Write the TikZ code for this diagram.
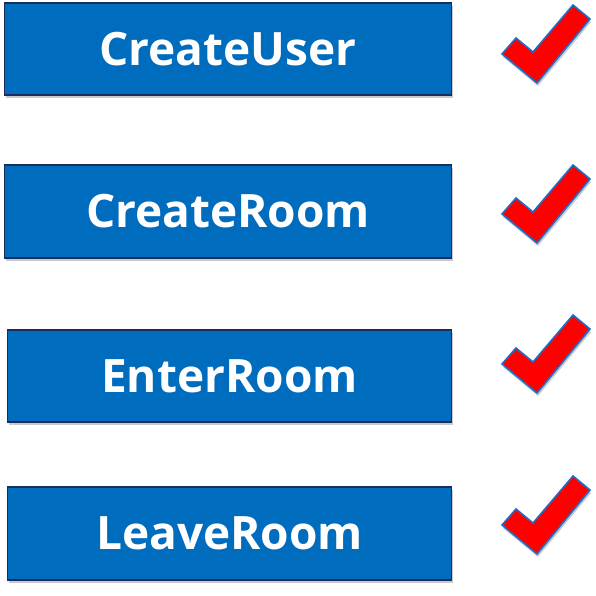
\documentclass[tikz,border=0pt]{standalone}
\usepackage{fontspec}
\newfontfamily\labelfont{Open Sans}
\usetikzlibrary{shadows}

\definecolor{boxblue}{RGB}{0,108,190}
\definecolor{boxline}{RGB}{25,45,95}
\definecolor{tickblue}{RGB}{30,110,200}

\tikzset{
  call/.style={rectangle,draw=boxline,line width=1.6pt,fill=boxblue,text=white,inner sep=0pt,
    font=\labelfont\bfseries\fontsize{46}{46}\selectfont,
    drop shadow={shadow xshift=1pt,shadow yshift=-3pt,opacity=0.35,fill=black!60}},
  okmark/.style={draw=tickblue,line width=1.6pt,fill=red,line join=miter,
    drop shadow={shadow xshift=1pt,shadow yshift=-3pt,opacity=0.35,fill=black!60}}
}

\begin{document}
\begin{tikzpicture}[x=1pt,y=-1pt]
\useasboundingbox (0,0) rectangle (596,596);

% the four calls
\foreach \n/\t/\x/\y/\w/\h in {cu/CreateUser/228/49/447/92, cr/CreateRoom/228/211.5/447/93,
    er/EnterRoom/229.5/376/444/92, lr/LeaveRoom/229.5/533.5/444/93}
  \node[call,minimum width=\w pt,minimum height=\h pt] (\n) at (\x,\y) {\t};

% ticks
\foreach \d in {0,160,310,471}
  \draw[okmark,shift={(0,\d)}] (502,54) -- (516,38) -- (533,52) -- (573,5) -- (590,19) -- (537,83) -- cycle;
\end{tikzpicture}
\end{document}
